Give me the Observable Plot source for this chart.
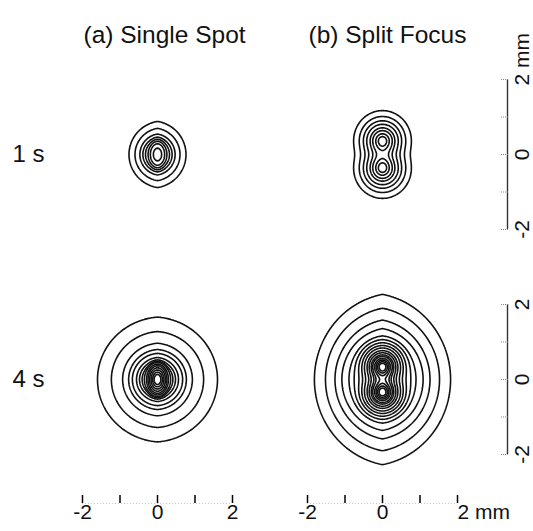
<!DOCTYPE html>
<html>
<head>
<meta charset="utf-8">
<script src="https://cdn.jsdelivr.net/npm/d3@7"></script>
<script src="https://cdn.jsdelivr.net/npm/@observablehq/plot@0.6"></script>
<style>
  html, body { margin: 0; padding: 0; background: #fff; }
</style>
</head>
<body>
<div id="chart"></div>
<script>
// ---------- data ----------
const columnTitles = ["(a) Single Spot", "(b) Split Focus"];
const rowLabels = ["1 s", "4 s"];
const tickValues = [-2, -1, 0, 1, 2];
const tickLabels = ["-2", "", "0", "", "2"];
const axisLabelTicks = [2, 0, -2];
const unit = "mm";

// contour half-widths (mm), read along the horizontal line through the (upper) spot centre
const single1s = [0.76, 0.60, 0.47, 0.39, 0.32, 0.25, 0.19, 0.11];
const split1s  = [0.77, 0.62, 0.51, 0.42, 0.33, 0.26, 0.18, 0.11];
const single4s = [1.60, 1.23, 0.93, 0.77, 0.67, 0.56, 0.48, 0.41, 0.35, 0.29, 0.25, 0.21, 0.17, 0.13, 0.09];
const split4s  = [1.79, 1.49, 1.23, 1.04, 0.85, 0.73, 0.63, 0.55, 0.48, 0.41, 0.355, 0.30, 0.26, 0.21, 0.17, 0.13, 0.09];

// spot centres (mm, vertical) per column
const spots1s = [[0], [-0.37, 0.37]];
const spots4s = [[0], [-0.35, 0.35]];

// beam profile: core [sigmaX, sigmaY]; halo [scale, aspect, tip, weight]
const cores1s = [[0.09, 0.14], [0.25, 0.26]];
const cores4s = [[0.10, 0.15], [0.23, 0.24]];
const halos1s = [[0.45, 1.16, 0.16, 0.27], [0.5, 1.5, 0, 0]];
const halos4s = [[0.8, 1.04, 0.08, 0.14], [0.7, 1.25, 0.18, 0.10]];

// ---------- layout ----------
const step = 6;                 // mm between panel centres
const xDomain = [-3, 9 + 1 / 3];
const yDomain = [-3.3067, 8.9067];
const font = "'Liberation Sans', Arial, Helvetica, sans-serif";

function beam(spots, [sx, sy], [tx, aspect, k, w]) {
  const ty = tx * aspect / (1 + k);
  return (x, y) => {
    let v = 0;
    for (const s of spots) v += Math.exp(-0.5 * ((x / sx) ** 2 + ((y - s) / sy) ** 2));
    const r = Math.hypot(x / tx, y / ty) + k * Math.abs(x) / tx;
    return v + w * Math.exp(-0.5 * r * r);
  };
}

const widths = [[single1s, split1s], [single4s, split4s]];
const spots = [spots1s, spots4s];
const cores = [cores1s, cores4s];
const halos = [halos1s, halos4s];

const rowOffsets = rowLabels.map((_, r) => (rowLabels.length - 1 - r) * step);
const colOffsets = columnTitles.map((_, c) => c * step);

const contourMarks = [];
rowLabels.forEach((_, r) => {
  columnTitles.forEach((_, c) => {
    const sp = spots[r][c];
    const f = beam(sp, cores[r][c], halos[r][c]);
    const top = d3.max(sp);
    const thresholds = widths[r][c].map(w => f(w, top)).sort((a, b) => a - b);
    const ox = colOffsets[c], oy = rowOffsets[r];
    contourMarks.push(Plot.contour({
      value: (x, y) => f(x - ox, y - oy),
      x1: ox - 3, x2: ox + 3, y1: oy - 3, y2: oy + 3,
      thresholds,
      pixelSize: 1,
      fill: "none",
      stroke: "#111",
      strokeWidth: 1.6
    }));
  });
});

const xTicks = colOffsets.flatMap(o => tickValues.map(t => o + t));
const yTicks = rowOffsets.flatMap(o => tickValues.map(t => o + t));
const lastX = d3.max(xTicks);
const topY = d3.max(yTicks);

function relLabel(d) {
  const rel = Math.round(d - Math.round(d / step) * step);
  return tickLabels[tickValues.indexOf(rel)] ?? "";
}

const yLabelData = rowOffsets.flatMap(o => axisLabelTicks.map(t => ({y: o + t, label: relLabel(o + t)})))
  .filter(d => d.y !== topY);

const chart = Plot.plot({
  width: 533,
  height: 531,
  marginLeft: 44.5,
  marginRight: 26,
  marginTop: 45,
  marginBottom: 28,
  x: {domain: xDomain},
  y: {domain: yDomain},
  style: {fontFamily: font, background: "#fff", color: "#111"},
  marks: [
    ...contourMarks,
    // bottom axis
    Plot.ruleY(colOffsets, {y: () => yDomain[0], x1: d => d - 2, x2: d => d + 2, stroke: "#bbb", strokeWidth: 0.8, strokeDasharray: "1,2"}),
    Plot.axisX(xTicks, {anchor: "bottom", tickSize: -8, tickPadding: 9, label: null,
      tickFormat: d => (d === lastX ? "" : relLabel(d)), fontSize: 21, stroke: "#000", strokeWidth: 1.5}),
    Plot.text([lastX], {x: d => d, frameAnchor: "bottom", text: () => `${relLabel(lastX)} ${unit}`,
      textAnchor: "start", lineAnchor: "top", dy: 1, fontSize: 21, fill: "#111"}),
    // right axis
    Plot.ruleX(rowOffsets, {x: () => xDomain[1], y1: d => d - 2, y2: d => d + 2, stroke: "#333", strokeWidth: 1.4}),
    Plot.axisY(yTicks, {anchor: "right", tickSize: -8, label: null, tickFormat: () => "", stroke: "#888", strokeDasharray: "1,1"}),
    Plot.text(yLabelData, {y: "y", text: "label", frameAnchor: "right", dx: 15, rotate: -90,
      textAnchor: "middle", fontSize: 21, fill: "#111"}),
    Plot.text([topY], {y: d => d, frameAnchor: "right", dx: 15, dy: 6, rotate: -90,
      text: () => `${relLabel(topY)} ${unit}`, textAnchor: "start", fontSize: 21, fill: "#111"}),
    // titles
    Plot.text(columnTitles, {x: (d, i) => colOffsets[i], text: d => d, frameAnchor: "top",
      textAnchor: "start", dx: -74, dy: -20, fontSize: 24.5, fill: "#111"}),
    Plot.text(rowLabels, {y: (d, i) => rowOffsets[i], text: d => d, frameAnchor: "left",
      textAnchor: "start", dx: -32.5, fontSize: 24, fill: "#111"})
  ]
});
document.getElementById("chart").append(chart);
</script>
</body>
</html>
